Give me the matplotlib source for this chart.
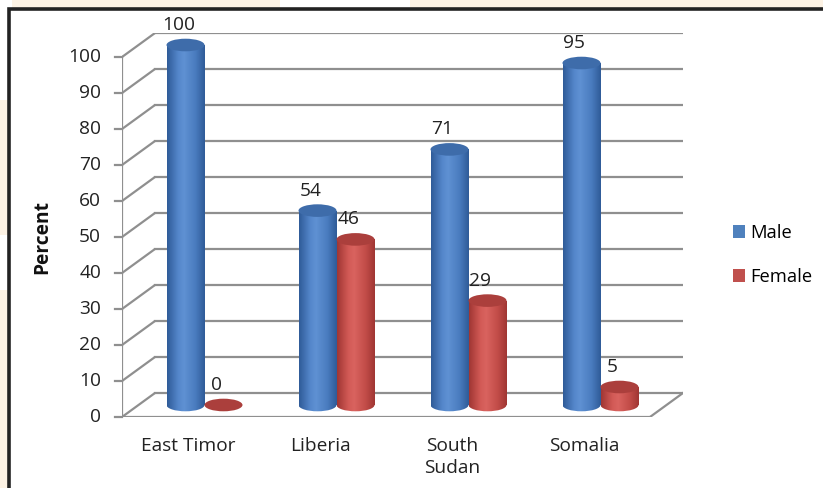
import matplotlib.pyplot as plt
import numpy as np
from matplotlib.patches import Ellipse, Rectangle, Patch
from matplotlib.colors import LinearSegmentedColormap

# data
categories = ["East Timor", "Liberia", "South\nSudan", "Somalia"]
male = [100, 54, 71, 95]
female = [0, 46, 29, 5]
yticks = list(range(0, 101, 10))
series_names = ["Male", "Female"]

W, H = 823, 488
fig = plt.figure(figsize=(W / 100, H / 100), dpi=100, facecolor="#fcf2e4")
plt.rcParams["font.family"] = ["Open Sans", "DejaVu Sans"]
FS = 13.8

# light swoosh bits of the page background
for (x, y, w, h) in [(280, 0, 130, 12), (0, 0, 12, 100), (0, 235, 12, 55)]:
    fig.patches.append(Rectangle((x / W, 1 - (y + h) / H), w / W, h / H,
                                 transform=fig.transFigure, facecolor="white",
                                 edgecolor="none", zorder=-2))
# chart area with dark frame (runs off the right / bottom)
fig.patches.append(Rectangle((9 / W, -0.1), 1.2, 1.1 - 9 / H, transform=fig.transFigure,
                             facecolor="white", edgecolor="#222222", lw=2.6, zorder=-1))

# axes: front plane 0..4 categories, 0..100 percent; depth offset DX, DY
ax = fig.add_axes([122 / W, 71 / H, 561 / W, 384 / H])
ax.set_zorder(2)
ax.patch.set_alpha(0)
ax.set_xlim(0, 4.25)
ax.set_ylim(0, 106.67)
ax.axis("off")
DX, DY = 0.25, 6.67
px = 1 / 132  # one pixel in x data units
gc = "#8f8f8f"

for v in yticks:
    ax.plot([0, DX], [v, v + DY], color=gc, lw=1.6, zorder=1, solid_capstyle="butt")
    ax.plot([DX, 4 + DX], [v + DY, v + DY], color=gc, lw=1.6, zorder=1)
    ax.plot([-7 * px, 0], [v, v], color=gc, lw=1.6, zorder=1, clip_on=False)
    ax.text(-21 * px, v, str(v), ha="right", va="center", fontsize=FS, color="#222222")
ax.plot([0, 0], [0, 100], color=gc, lw=1.6, zorder=1)
ax.plot([0, 4], [0, 0], color=gc, lw=1.6, zorder=1)
ax.plot([4, 4 + DX], [0, DY], color=gc, lw=1.6, zorder=1)

for i, c in enumerate(categories):
    ax.text(i + 0.5, -5.6, c, ha="center", va="top", fontsize=FS, color="#222222",
            linespacing=1.3)

ax.text(-80 * px, 50, "Percent", rotation=90, ha="center", va="center",
        fontsize=FS, fontweight="bold", color="#111111")

blue_cm = LinearSegmentedColormap.from_list(
    "b", [(0, "#2f5b98"), (0.3, "#5587cb"), (0.45, "#5f91d3"), (0.75, "#4a7cbf"), (1, "#2f5b98")])
red_cm = LinearSegmentedColormap.from_list(
    "r", [(0, "#a03633"), (0.3, "#d25a56"), (0.45, "#d9635f"), (0.75, "#c34d49"), (1, "#a03633")])
styles = [(blue_cm, "#3e6caa", "#4f81bd"), (red_cm, "#ab3f3c", "#c0504d")]

bw = 38 * px
eh = 3.5  # ellipse height in percent units
base = DY / 2
grad = np.linspace(0, 1, 128).reshape(1, -1)


def cylinder(x0, val, cmap, topc, z):
    top = base + val
    xc = x0 + bw / 2
    if val > 0:
        body = Rectangle((x0, base), bw, val, transform=ax.transData)
        bottom = Ellipse((xc, base), bw, eh, transform=ax.transData)
        for clip in (body, bottom):
            im = ax.imshow(grad, cmap=cmap, extent=[x0, x0 + bw, base - eh, top],
                           aspect="auto", interpolation="bilinear", zorder=z)
            im.set_clip_path(clip)
    ax.add_patch(Ellipse((xc, top), bw, eh, facecolor=topc, edgecolor="none", zorder=z + 0.1))
    ax.text(xc - 7 * px, top + eh / 2 + 1.3, str(val), ha="center", va="bottom",
            fontsize=FS, color="#222222", zorder=z + 0.2)


for i in range(len(categories)):
    xj = i + 0.5 + DX / 2
    cylinder(xj - bw, male[i], styles[0][0], styles[0][1], 3)
    cylinder(xj, female[i], styles[1][0], styles[1][1], 3)

ax.set_xlim(0, 4.25)
ax.set_ylim(0, 106.67)

handles = [Patch(facecolor=s[2], edgecolor="none") for s in styles]
fig.legend(handles, series_names, loc="center left", bbox_to_anchor=(733 / W, 1 - 255 / H),
           frameon=False, fontsize=13.2, handlelength=0.65, handleheight=0.7,
           handletextpad=0.3, labelspacing=1.4, borderpad=0, borderaxespad=0)

fig.savefig("out.png", dpi=100, facecolor=fig.get_facecolor())
